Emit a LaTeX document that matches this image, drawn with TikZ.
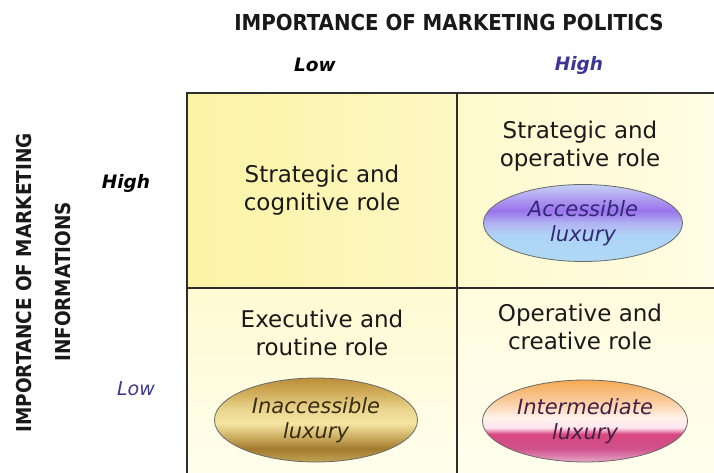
\documentclass[tikz,border=0pt]{standalone}
\usepackage{fontspec}
\setmainfont{DejaVu Sans}
\newfontfamily\condbold{DejaVu Sans Condensed Bold}
\usetikzlibrary{shapes.geometric}
\definecolor{gridline}{RGB}{45,45,45}
\definecolor{ulA}{RGB}{251,243,165}
\definecolor{ulB}{RGB}{253,248,196}
\definecolor{urA}{RGB}{254,249,205}
\definecolor{urB}{RGB}{255,253,228}
\definecolor{llA}{RGB}{254,250,210}
\definecolor{llB}{RGB}{255,254,236}
\definecolor{lrA}{RGB}{255,252,222}
\definecolor{lrB}{RGB}{255,254,238}
\definecolor{hiblue}{RGB}{60,55,150}
\definecolor{acctext}{RGB}{50,40,120}
\definecolor{inacctext}{RGB}{55,45,20}
\definecolor{intertext}{RGB}{70,30,70}
\definecolor{ellborder}{RGB}{105,105,105}
\pgfdeclareverticalshading{accshade}{100bp}{%
  rgb(0bp)=(0.69,0.85,0.96);
  rgb(25bp)=(0.69,0.85,0.96);
  rgb(42bp)=(0.68,0.83,0.96);
  rgb(50bp)=(0.70,0.70,0.95);
  rgb(58bp)=(0.60,0.45,0.92);
  rgb(64bp)=(0.66,0.58,0.94);
  rgb(75bp)=(0.78,0.82,0.96);
  rgb(100bp)=(0.78,0.82,0.96)}
\pgfdeclareverticalshading{inaccshade}{100bp}{%
  rgb(0bp)=(0.76,0.64,0.33);
  rgb(25bp)=(0.76,0.64,0.33);
  rgb(33bp)=(0.64,0.48,0.18);
  rgb(40bp)=(0.80,0.68,0.38);
  rgb(48bp)=(0.96,0.90,0.64);
  rgb(56bp)=(0.92,0.84,0.56);
  rgb(66bp)=(0.82,0.68,0.36);
  rgb(75bp)=(0.74,0.56,0.22);
  rgb(100bp)=(0.74,0.56,0.22)}
\pgfdeclareverticalshading{intershade}{100bp}{%
  rgb(0bp)=(0.90,0.66,0.78);
  rgb(25bp)=(0.90,0.66,0.78);
  rgb(33bp)=(0.82,0.32,0.55);
  rgb(42bp)=(0.84,0.28,0.50);
  rgb(46bp)=(1.00,0.90,0.94);
  rgb(52bp)=(1.00,0.95,0.92);
  rgb(62bp)=(0.98,0.80,0.62);
  rgb(75bp)=(0.96,0.66,0.32);
  rgb(100bp)=(0.96,0.66,0.32)}
\tikzset{
  cellline/.style={draw=gridline, line width=2pt},
  roletext/.style={align=center, font=\fontsize{23}{27.5}\selectfont, text=black!90, inner sep=0pt},
  titletext/.style={font=\fontsize{22}{26}\condbold, text=black!90, inner sep=0pt},
  axislbl/.style={font=\fontsize{18.5}{22}\selectfont\bfseries\itshape, inner sep=0pt},
  luxell/.style={ellipse, draw=ellborder, line width=0.8pt, shade, inner sep=0pt,
     align=center, font=\fontsize{21}{25}\selectfont\itshape},
}
\begin{document}
\begin{tikzpicture}[x=1pt,y=-1pt]
\useasboundingbox (0,0) rectangle (714,473);
\fill[white] (0,0) rectangle (714,473);
% cells
\shade[left color=ulA, right color=ulB] (187,93) rectangle (457,288);
\shade[left color=urA, right color=urB] (457,93) rectangle (714,288);
\shade[top color=llA, bottom color=llB] (187,288) rectangle (457,473);
\shade[top color=lrA, bottom color=lrB] (457,288) rectangle (714,473);
% grid
\coordinate (tl) at (187,93);
\coordinate (tr) at (714,93);
\coordinate (bl) at (187,473);
\coordinate (tm) at (457,93);
\coordinate (bm) at (457,473);
\coordinate (ml) at (187,288);
\coordinate (mr) at (714,288);
\draw[cellline] (bl) -- (tl) -- (tr);
\draw[cellline] (tm) -- (bm);
\draw[cellline] (ml) -- (mr);
% titles
\node[titletext] (toptitle) at (449,22) {IMPORTANCE OF MARKETING POLITICS};
\node[axislbl, text=black] (lowtop) at (315,65) {Low};
\node[axislbl, text=hiblue] (hightop) at (579,65) {High};
\node[titletext, font=\fontsize{20.5}{24}\condbold, rotate=90] (lefttitle1) at (24,283) {IMPORTANCE OF MARKETING};
\node[titletext, font=\fontsize{20.5}{24}\condbold, rotate=90] (lefttitle2) at (63,282) {INFORMATIONS};
\node[axislbl, text=black] (highleft) at (126,183) {High};
\node[axislbl, text=hiblue, font=\fontsize{19}{22}\selectfont\itshape] (lowleft) at (136,389) {Low};
% cell texts
\node[roletext] (ul) at (322,190) {Strategic and\\cognitive role};
\node[roletext] (ur) at (580,146) {Strategic and\\operative role};
\node[roletext] (ll) at (322,333) {Executive and\\routine role};
\node[roletext] (lr) at (580,327) {Operative and\\creative role};
% ellipses
\node[luxell, shading=accshade, text=acctext, minimum width=199pt, minimum height=77pt] (acc) at (583,223) {Accessible\\luxury};
\node[luxell, shading=inaccshade, text=inacctext, minimum width=203pt, minimum height=84pt] (inacc) at (316,420) {Inaccessible\\luxury};
\node[luxell, shading=intershade, text=intertext, minimum width=205pt, minimum height=82pt] (inter) at (585,421) {Intermediate\\luxury};
\end{tikzpicture}
\end{document}
